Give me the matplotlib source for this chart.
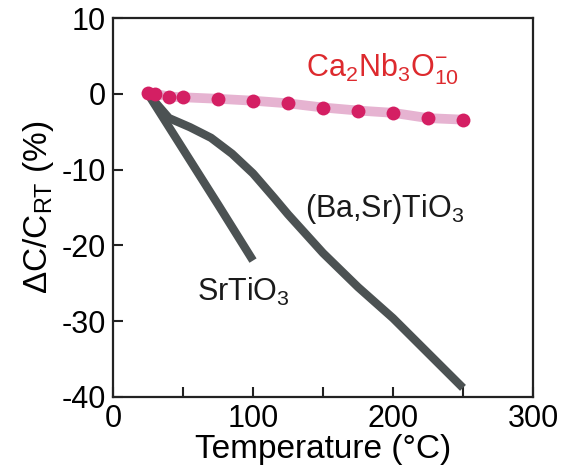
import matplotlib
matplotlib.use("Agg")
import matplotlib.pyplot as plt

plt.rcParams['font.family'] = ['Liberation Sans', 'DejaVu Sans']
plt.rcParams['mathtext.fontset'] = 'custom'
plt.rcParams['mathtext.rm'] = 'Liberation Sans'
plt.rcParams['mathtext.it'] = 'Liberation Sans'
plt.rcParams['axes.unicode_minus'] = False

# Ca2Nb3O10- nanosheet (points)
t_ca = [25, 30, 40, 50, 75, 100, 125, 150, 175, 200, 225, 250]
d_ca = [0.1, 0.0, -0.35, -0.45, -0.65, -0.9, -1.25, -1.8, -2.2, -2.5, -3.2, -3.4]

# (Ba,Sr)TiO3
t_bst = [25, 40, 55, 70, 85, 100, 115, 125, 150, 175, 200, 225, 250]
d_bst = [0, -3.2, -4.4, -5.8, -7.9, -10.5, -13.7, -15.9, -21.0, -25.5, -29.6, -34.2, -38.8]

# SrTiO3
t_sto = [25, 50, 75, 100]
d_sto = [0, -7.3, -14.6, -22.0]

fig = plt.figure(figsize=(5.64, 4.76), dpi=100)
ax = fig.add_axes([0.2004, 0.166, 0.7446, 0.796])

grey = '#4c5253'
ax.plot(t_sto, d_sto, color=grey, lw=6, solid_capstyle='butt', zorder=2)
ax.plot(t_bst, d_bst, color=grey, lw=6, solid_capstyle='butt', solid_joinstyle='round', zorder=2)
ax.plot(t_ca, d_ca, color='#e6b3d1', lw=7, solid_capstyle='butt', zorder=3)
ax.plot(t_ca, d_ca, 'o', color='#d41f63', ms=10, mec='none', zorder=4)

ax.text(138, 3.3, r'$\mathregular{Ca_2Nb_3O_{10}^{-}}$', color='#dd2a2e',
        fontsize=22, ha='left', va='center')
ax.text(137, -15.2, r'(Ba,Sr)TiO$\mathregular{_3}$', fontsize=22, ha='left', va='center',
        color='#1a1a1a')
ax.text(60, -26.2, r'SrTiO$\mathregular{_3}$', fontsize=22, ha='left', va='center',
        color='#1a1a1a')

ax.set_xlim(0, 300)
ax.set_ylim(-40, 10)
ax.set_xticks([0, 50, 100, 150, 200, 250, 300])
ax.set_xticklabels(['0', '', '100', '', '200', '', '300'])
ax.set_yticks([-40, -30, -20, -10, 0, 10])
ax.tick_params(direction='in', length=7, width=1.5, labelsize=22, pad=5, color='#222222')

for s in ax.spines.values():
    s.set_linewidth(1.6)
    s.set_color('#222222')

ax.set_xlabel('Temperature (°C)', fontsize=24, labelpad=0)
ax.set_ylabel(r'ΔC/C$\mathregular{_{RT}}$ (%)', fontsize=24, labelpad=4)

fig.savefig('out.png', dpi=100)
